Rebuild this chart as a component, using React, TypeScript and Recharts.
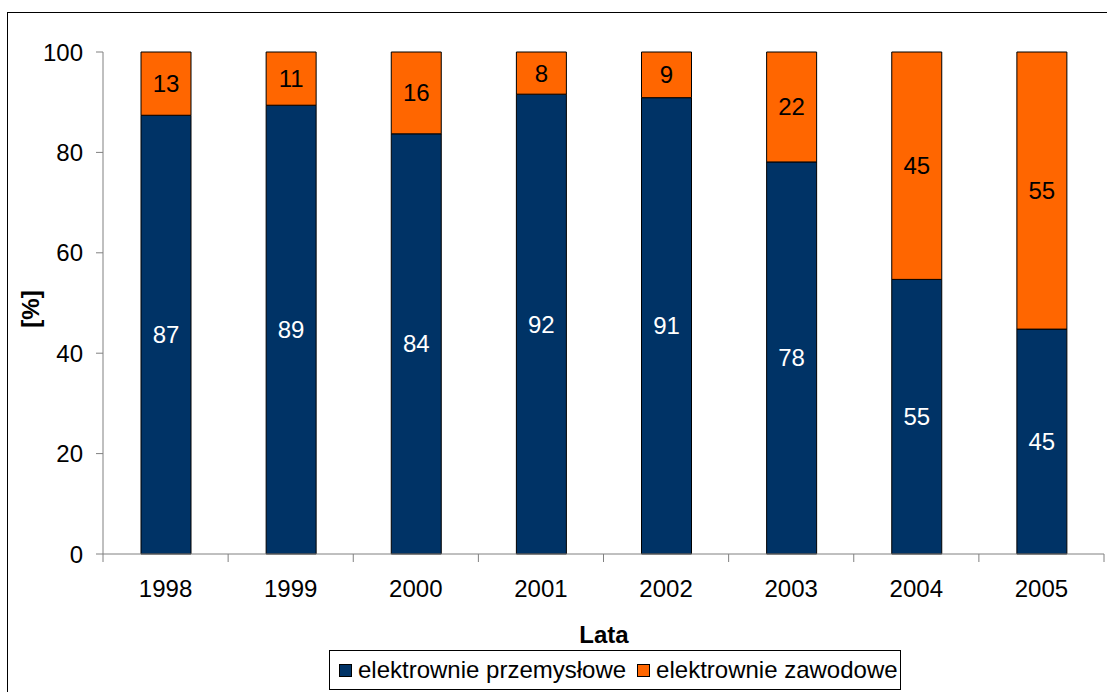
import { BarChart, Bar, XAxis, YAxis, LabelList, Legend } from 'recharts';

const years = ['1998', '1999', '2000', '2001', '2002', '2003', '2004', '2005'];
const przemyslowe = [87.4, 89.4, 83.7, 91.6, 90.9, 78.1, 54.7, 44.8];
const zawodowe = [12.6, 10.6, 16.3, 8.4, 9.1, 21.9, 45.3, 55.2];
const yTicks = [0, 20, 40, 60, 80, 100];

const NAVY = '#003366';
const ORANGE = '#FF6600';
const AXIS = '#808080';
const FONT = '"Liberation Sans", Arial, sans-serif';

const W = 1107;
const H = 692;
const MARGIN = { top: 52, right: 3, left: 43, bottom: 0 };
const Y_WIDTH = 60;
const X_HEIGHT = 138;
const BAND = (W - MARGIN.left - MARGIN.right - Y_WIDTH) / years.length;

const data = years.map((year, i) => ({
  year,
  przemyslowe: przemyslowe[i],
  zawodowe: zawodowe[i],
}));

const legendItems = [
  { name: 'elektrownie przemysłowe', color: NAVY },
  { name: 'elektrownie zawodowe', color: ORANGE },
];

function YearTick(props: any) {
  const { x, y, payload } = props;
  const axisY = y - 26;
  const isLast = payload.value === years[years.length - 1];
  return (
    <g>
      <line x1={x - BAND / 2} x2={x - BAND / 2} y1={axisY} y2={axisY + 8} stroke={AXIS} />
      {isLast && (
        <line x1={x + BAND / 2} x2={x + BAND / 2} y1={axisY} y2={axisY + 8} stroke={AXIS} />
      )}
      <text x={x} y={y} dy="0.71em" textAnchor="middle" fontSize={24} fill="#000">
        {payload.value}
      </text>
    </g>
  );
}

function LegendBox() {
  return (
    <div
      style={{
        boxSizing: 'border-box',
        width: 572,
        height: 40,
        border: '1px solid #000',
        display: 'flex',
        alignItems: 'center',
        paddingLeft: 9,
        fontSize: 24,
        fontFamily: FONT,
        color: '#000',
        background: '#fff',
        whiteSpace: 'nowrap',
      }}
    >
      {legendItems.map((item, i) => (
        <span key={item.name} style={{ display: 'flex', alignItems: 'center', marginLeft: i ? 11 : 0 }}>
          <span
            style={{
              boxSizing: 'border-box',
              width: 13,
              height: 13,
              background: item.color,
              border: '1px solid #000',
              marginRight: 6,
            }}
          />
          {item.name}
        </span>
      ))}
    </div>
  );
}

const fmt = (v: any) => String(Math.round(Number(v)));

export default function App() {
  return (
    <div
      style={{
        position: 'absolute',
        left: 0,
        top: 0,
        width: W,
        height: H,
        overflow: 'hidden',
        background: '#fff',
        fontFamily: FONT,
      }}
    >
      <div
        style={{
          position: 'absolute',
          left: 7,
          top: 12,
          width: 1200,
          height: 800,
          border: '1px solid #000',
        }}
      />
      <div style={{ position: 'absolute', left: 0, top: 0 }}>
        <BarChart width={W} height={H} data={data} margin={MARGIN}>
          <XAxis
            dataKey="year"
            height={X_HEIGHT}
            tickLine={false}
            tickSize={8}
            tickMargin={18}
            axisLine={{ stroke: AXIS }}
            tick={<YearTick />}
            interval={0}
            label={() => (
              <text x={604} y={643} textAnchor="middle" fontSize={24} fontWeight="bold" fill="#000">
                Lata
              </text>
            )}
          />
          <YAxis
            width={Y_WIDTH}
            domain={[0, 100]}
            ticks={yTicks}
            interval={0}
            tickSize={7}
            tickMargin={13}
            axisLine={{ stroke: AXIS }}
            tickLine={{ stroke: AXIS }}
            tick={{ fill: '#000', fontSize: 24 }}
            label={() => (
              <text
                x={30}
                y={309}
                transform="rotate(-90 30 309)"
                textAnchor="middle"
                dominantBaseline="central"
                fontSize={24}
                fontWeight="bold"
                fill="#000"
              >
                [%]
              </text>
            )}
          />
          <Legend
            layout="horizontal"
            verticalAlign="middle"
            align="center"
            content={<LegendBox />}
            wrapperStyle={{ left: 329, top: 650, width: 572, height: 40 }}
          />
          <Bar
            dataKey="przemyslowe"
            name="elektrownie przemysłowe"
            stackId="a"
            fill={NAVY}
            stroke="#000"
            strokeWidth={1}
            barSize={50}
            isAnimationActive={false}
          >
            <LabelList
              dataKey="przemyslowe"
              position="center"
              formatter={fmt}
              fill="#fff"
              stroke="none"
              fontSize={24}
            />
          </Bar>
          <Bar
            dataKey="zawodowe"
            name="elektrownie zawodowe"
            stackId="a"
            fill={ORANGE}
            stroke="#000"
            strokeWidth={1}
            barSize={50}
            isAnimationActive={false}
          >
            <LabelList
              dataKey="zawodowe"
              position="center"
              formatter={fmt}
              fill="#000"
              stroke="none"
              fontSize={24}
            />
          </Bar>
        </BarChart>
      </div>
    </div>
  );
}
